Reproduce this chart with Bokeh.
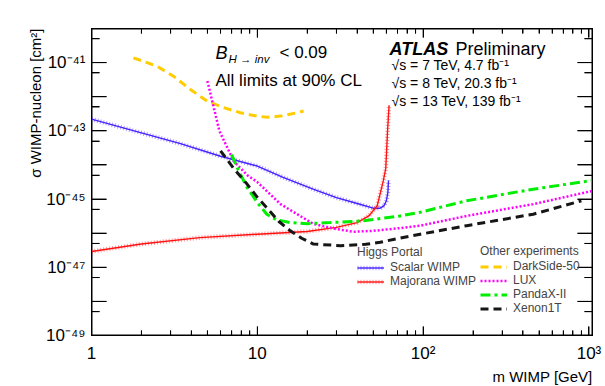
import numpy as np
from bokeh.plotting import figure
from bokeh.models import (LogAxis, FixedTicker, Label, Legend, LegendItem, Range1d, Title)
from bokeh.embed import file_html
from bokeh.resources import INLINE

# ---------------- data ----------------
scalar_m = [1, 2, 3.44, 6, 10, 14.3, 21.7, 30, 40, 50, 55, 58, 60, 61.3, 61.8]
scalar_xs = [2.2e-43, 8.7e-44, 4.2e-44, 1.8e-44, 9.3e-45, 4.3e-45, 1.95e-45, 1.1e-45,
             7.4e-46, 5.4e-46, 5.4e-46, 6.3e-46, 8.9e-46, 1.6e-45, 3.5e-45]

major_m = [1, 2, 4.5, 10, 20, 30, 40, 47, 52.8, 57.5, 59.5, 61, 62.3]
major_xs = [2.9e-47, 4.8e-47, 7.4e-47, 9.3e-47, 1.12e-46, 1.48e-46, 2.04e-46, 3.2e-46,
            6.3e-46, 3.4e-45, 7.9e-45, 1.0e-43, 5.6e-43]

ds50_m = [1.79, 2.49, 3.12, 3.95, 4.98, 6.27, 7.9, 9.96, 11.5, 13.8, 17.4, 19.0]
ds50_xs = [1.38e-41, 7.8e-42, 4.0e-42, 1.62e-42, 7.4e-43, 4.8e-43, 3.4e-43, 2.7e-43,
           2.5e-43, 2.7e-43, 3.4e-43, 3.8e-43]

lux_m = [5.0, 5.9, 7.2, 8.7, 9.96, 13.8, 21.8, 30, 38, 50, 72.7, 96, 183, 461, 1050]
lux_xs = [2.9e-42, 1.0e-43, 1.3e-44, 5.0e-45, 3.2e-45, 7.1e-46, 1.86e-46, 1.32e-46,
          1.10e-46, 1.17e-46, 1.41e-46, 1.66e-46, 3.2e-46, 7.1e-46, 1.74e-45]

pandax_m = [7.0, 7.6, 8.67, 10, 11.4, 13, 15.8, 20, 27.5, 43.7, 72.7, 96, 183, 461, 1050]
pandax_xs = [2.0e-44, 7.9e-45, 2.2e-45, 7.9e-46, 3.6e-46, 2.5e-46, 2.04e-46, 1.9e-46,
             2.04e-46, 2.3e-46, 3.2e-46, 4.1e-46, 8.9e-46, 1.95e-45, 3.5e-45]

xenon_m = [6.0, 7.2, 8.67, 10, 11.4, 13.5, 15.8, 18.5, 21.8, 31.7, 45, 55, 72.7, 96,
           183, 461, 900]
xenon_xs = [2.6e-44, 7.9e-45, 2.75e-45, 1.12e-45, 5.6e-46, 2.2e-46, 1.17e-46, 7.1e-47,
            4.8e-47, 4.3e-47, 4.7e-47, 5.4e-47, 7.2e-47, 9.3e-47, 1.66e-46, 3.6e-46,
            8.9e-46]

x_ticks = [1.0, 10.0, 100.0, 1000.0]
x_tick_labels = ["1", "10", "10²", "10³"]
x_minor = [k * 10.0 ** d for d in range(0, 4) for k in range(2, 10) if k * 10.0 ** d <= 1050]

y_ticks = [float(f"1e{e}") for e in range(-49, -39)]
y_tick_labels = ["10⁻⁴⁹", "", "10⁻⁴⁷", "", "10⁻⁴⁵", "", "10⁻⁴³", "", "10⁻⁴¹", ""]
y_minor = [5 * t for t in y_ticks[:-1]]

x_title = "m WIMP [GeV]"
y_title = "σ WIMP-nucleon [cm²]"

AX = "#000000"        # frame / ticks
XENON = "#161616"     # Xenon1T curve (kept distinct from the frame colour)

# ---------------- figure ----------------
X0, X1 = 1.0, 1050.0
Y0, Y1 = 1e-49, 1e-40
W, H = 604, 385
FL, FR, FT, FB = 91, 592, 28, 335   # frame edges in page pixels
p = figure(width=W, height=H, x_axis_type="log", y_axis_type="log",
           x_range=Range1d(X0, X1), y_range=Range1d(Y0, Y1),
           output_backend="svg", toolbar_location=None,
           min_border_left=FL, min_border_right=W - FR, min_border_top=FT,
           min_border_bottom=H - FB)
p.grid.visible = False
p.outline_line_color = AX

def dx(px):
    return 10 ** (np.log10(X0) + (px - FL) / (FR - FL) * (np.log10(X1) - np.log10(X0)))
def dy(py):
    return 10 ** (np.log10(Y0) + (FB - py) / (FB - FT) * (np.log10(Y1) - np.log10(Y0)))

def style_axis(ax, ticks, minor, maj_len, min_len):
    ax.ticker = FixedTicker(ticks=ticks, minor_ticks=minor)
    ax.major_tick_in = maj_len
    ax.major_tick_out = 0
    ax.minor_tick_in = min_len
    ax.minor_tick_out = 0
    ax.major_label_text_font_size = "17px"
    ax.major_label_text_color = "black"

xa = p.xaxis[0]
style_axis(xa, x_ticks, x_minor, 9, 5)
xa.major_label_overrides = dict(zip(x_ticks, x_tick_labels))
xa.major_label_standoff = 8

ya = p.yaxis[0]
style_axis(ya, y_ticks, y_minor, 15, 8)
ya.major_label_overrides = dict(zip(y_ticks, y_tick_labels))
ya.major_label_standoff = 6

top = LogAxis()
style_axis(top, x_ticks, x_minor, 9, 5)
top.major_label_text_color = None
top.major_label_text_font_size = "1px"
top.major_label_standoff = 0
p.add_layout(top, "above")

right = LogAxis()
style_axis(right, y_ticks, y_minor, 15, 8)
right.major_label_text_color = None
right.major_label_text_font_size = "1px"
right.major_label_standoff = 0
p.add_layout(right, "right")

# axis titles (top / right aligned, ROOT style)
p.add_layout(Title(text=y_title, align="right", text_font_size="15px",
                   text_font_style="normal", text_color="black", standoff=0), "left")
p.add_layout(Title(text=x_title, align="right", text_font_size="15px",
                   text_font_style="normal", text_color="black", standoff=0), "below")

# ---------------- frame box and tick marks drawn from the tick arrays ----------------
p.quad(left=[X0], right=[X1], bottom=[Y0], top=[Y1], fill_color=None,
       line_color=AX, line_width=2)
nx, nxm, ny, nym = len(x_ticks), len(x_minor), len(y_ticks), len(y_minor)
tick_kw = dict(line_color=AX, line_width=1)
p.segment(x0=x_ticks, y0=[Y0] * nx, x1=x_ticks, y1=[dy(FB - 9)] * nx, **tick_kw)
p.segment(x0=x_ticks, y0=[Y1] * nx, x1=x_ticks, y1=[dy(FT + 9)] * nx, **tick_kw)
p.segment(x0=x_minor, y0=[Y0] * nxm, x1=x_minor, y1=[dy(FB - 5)] * nxm, **tick_kw)
p.segment(x0=x_minor, y0=[Y1] * nxm, x1=x_minor, y1=[dy(FT + 5)] * nxm, **tick_kw)
p.segment(x0=[X0] * ny, y0=y_ticks, x1=[dx(FL + 15)] * ny, y1=y_ticks, **tick_kw)
p.segment(x0=[X1] * ny, y0=y_ticks, x1=[dx(FR - 15)] * ny, y1=y_ticks, **tick_kw)
p.segment(x0=[X0] * nym, y0=y_minor, x1=[dx(FL + 8)] * nym, y1=y_minor, **tick_kw)
p.segment(x0=[X1] * nym, y0=y_minor, x1=[dx(FR - 8)] * nym, y1=y_minor, **tick_kw)

# ---------------- curves ----------------
s1 = p.line(scalar_m, scalar_xs, line_color="#4422ff", line_width=1.4)
s2 = p.line(scalar_m, scalar_xs, line_color="#4624fe", line_width=4.5, line_alpha=0.45, line_dash="1 2")
m1 = p.line(major_m, major_xs, line_color="#ff1111", line_width=1.4)
m2 = p.line(major_m, major_xs, line_color="#fe1313", line_width=4.5, line_alpha=0.45, line_dash="1 2")

ds = p.line(ds50_m, ds50_xs, line_color="#ffcc00", line_width=3, line_dash="8 5")
lx = p.line(lux_m, lux_xs, line_color="#ff00ff", line_width=2.5, line_dash="2 2")
pd = p.line(pandax_m, pandax_xs, line_color="#00ee00", line_width=3, line_dash="10 4 3 4")
xe = p.line(xenon_m, xenon_xs, line_color=XENON, line_width=3, line_dash="8 5")

# ---------------- legends ----------------
def style_legend(lg):
    lg.background_fill_alpha = 0
    lg.border_line_alpha = 0
    lg.padding = 0
    lg.margin = 0
    lg.spacing = 0
    lg.glyph_width = 27
    lg.glyph_height = 13
    lg.label_height = 13
    lg.label_standoff = 6
    lg.label_text_font_size = "12px"
    lg.title_text_font_size = "12px"
    lg.title_text_font_style = "normal"
    lg.title_standoff = 1

leg1 = Legend(items=[LegendItem(label="Scalar WIMP", renderers=[s1, s2]),
                     LegendItem(label="Majorana WIMP", renderers=[m1, m2])],
              title="Higgs Portal", location=(266, 47))
style_legend(leg1)
p.add_layout(leg1)

leg2 = Legend(items=[LegendItem(label="DarkSide-50", renderers=[ds]),
                     LegendItem(label="LUX", renderers=[lx]),
                     LegendItem(label="PandaX-II", renderers=[pd]),
                     LegendItem(label="Xenon1T", renderers=[xe])],
              title="Other experiments", location=(389, 20))
style_legend(leg2)
p.add_layout(leg2)

# ---------------- texts inside the frame ----------------
def lab(px, py, text, size, style="normal", align="left"):
    p.add_layout(Label(x=dx(px), y=dy(py), text=text,
                       text_font_size=size, text_font_style=style,
                       text_align=align, text_baseline="alphabetic", text_color="black"))

lab(215, 52, "B", "18px", "italic")
lab(228, 58, "H → inv", "11.5px", "italic")
lab(279, 52, "< 0.09", "17px")
lab(215, 80, "All limits at 90% CL", "17px")

lab(389, 48, "ATLAS", "18px", "bold italic")
lab(455, 48, "Preliminary", "18px")
lab(391, 64, "√s = 7 TeV, 4.7 fb⁻¹", "14px")
lab(391, 82, "√s = 8 TeV, 20.3 fb⁻¹", "14px")
lab(391, 100, "√s = 13 TeV, 139 fb⁻¹", "14px")

open("out.html", "w").write(file_html(p, INLINE))
